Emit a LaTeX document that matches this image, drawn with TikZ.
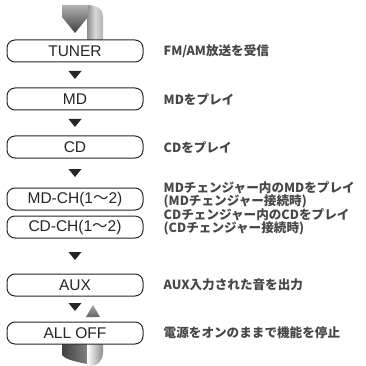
\documentclass[tikz,border=0pt]{standalone}
\usepackage{fontspec}
\setmainfont{Liberation Sans}
\newfontfamily\jpfont{Noto Sans CJK JP}
\usetikzlibrary{positioning}

\begin{document}
\begin{tikzpicture}[
		x=1pt, y=-1pt,
		mode/.style={rectangle, rounded corners=8pt, draw=black!85, line width=1pt, fill=white,
			minimum width=136pt, minimum height=22pt, inner sep=0pt, text=black!85,
			font=\fontsize{15.5}{17}\selectfont},
		desc/.style={inner sep=0pt, align=left, text=black!72,
			font=\jpfont\bfseries\fontsize{12.6}{11.8}\selectfont},
		marker/.style={fill=black!85},
		]
		\useasboundingbox (0,0) rectangle (365,366);

		%Loop ribbon (top)
		\shade[left color=black!45, right color=black!30, middle color=black!15]
			(87,5) .. controls (97,5) and (103,9) .. (103,16) -- (103,40) -- (87,40) -- cycle;
		\shade[top color=black!30, bottom color=black!75]
			(62,5) -- (88,5) -- (88,17) -- (75,33) -- (62,17) -- cycle;

		%Loop ribbon (bottom)
		\shade[left color=black!75, right color=black!50]
			(62,339) -- (87,339) -- (87,364) .. controls (78,362) and (66,360) .. (62,355) -- cycle;
		\shade[left color=white, right color=black!45]
			(87,339) -- (103,339) -- (103,352) .. controls (103,360) and (98,366) .. (91,366)
			.. controls (89,366) and (87,365) .. (87,364) -- cycle;
		\shade[top color=black!35, bottom color=black!60] (86,317) -- (100,317) -- (93,305) -- cycle;

		%Modes
		\node[mode]	(tuner)	at (75,51)	{TUNER};
		\node[mode]	(md)	[below=25pt of tuner]	{MD};
		\node[mode]	(cd)	[below=25pt of md]	{CD};
		\node[mode]	(mdch)	[below=29pt of cd]	{MD-CH(1{\jpfont ～}2)};
		\node[mode]	(cdch)	[below=5pt of mdch]	{CD-CH(1{\jpfont ～}2)};
		\node[mode]	(aux)	[below=35pt of cdch]	{AUX};
		\node[mode]	(alloff)	[below=25pt of aux]	{ALL OFF};

		%Descriptions
		\node[desc]	(tuner_lbl)	[right=20pt of tuner]	{FM/AM放送を受信};
		\node[desc]	(md_lbl)	[right=20pt of md]	{MDをプレイ};
		\node[desc]	(cd_lbl)	[right=20pt of cd]	{CDをプレイ};
		\node[desc, yshift=4pt]	(mdch_lbl)	[right=20pt of mdch]	{MDチェンジャー内のMDをプレイ\\(MDチェンジャー接続時)};
		\node[desc, yshift=5pt]	(cdch_lbl)	[right=20pt of cdch]	{CDチェンジャー内のCDをプレイ\\(CDチェンジャー接続時)};
		\node[desc]	(aux_lbl)	[right=20pt of aux]	{AUX入力された音を出力};
		\node[desc]	(alloff_lbl)	[right=20pt of alloff]	{電源をオンのままで機能を停止};

		%Step markers
		\foreach \a/\b/\n/\p in {tuner/md/1/0.5, md/cd/2/0.5, cd/mdch/3/0.5, cdch/aux/4/0.5, aux/alloff/5/0.42}{
			\path (\a) -- (\b) coordinate[pos=\p] (tri_\n);
			\fill[marker] (tri_\n) ++(-6.5,-4) -- ++(13,0) -- ++(-6.5,8) -- cycle;
		}
	\end{tikzpicture}
\end{document}
